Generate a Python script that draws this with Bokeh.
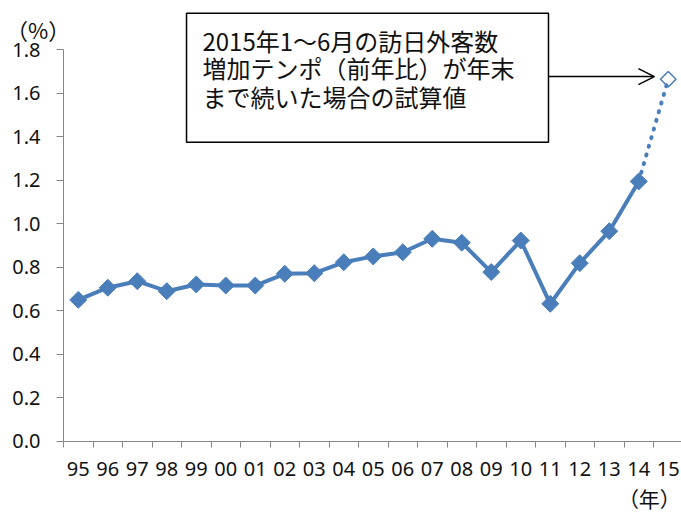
import numpy as np
from bokeh.plotting import figure
from bokeh.models import (Range1d, FixedTicker, Label, Arrow, OpenHead,
                          NumeralTickFormatter)
from bokeh.embed import file_html
from bokeh.resources import INLINE

# ---- data ----
years = ["95", "96", "97", "98", "99", "00", "01", "02", "03", "04", "05",
         "06", "07", "08", "09", "10", "11", "12", "13", "14", "15"]
actual = [0.650, 0.706, 0.736, 0.690, 0.721, 0.716, 0.716, 0.770, 0.773, 0.823,
          0.850, 0.869, 0.931, 0.913, 0.778, 0.923, 0.632, 0.819, 0.966, 1.195]
estimate_2015 = 1.665
y_ticks = [0.0, 0.2, 0.4, 0.6, 0.8, 1.0, 1.2, 1.4, 1.6, 1.8]
note_lines = ["2015年1～6月の訪日外客数",
              "増加テンポ（前年比）が年末",
              "まで続いた場合の試算値"]
y_unit = "（%）"
x_unit = "（年）"

BLUE = "#4A7EBB"
GRAY = "#868686"
NUM_FONT = "Noto Sans"
JP_FONT = "Noto Sans CJK JP"

W, H = 681, 513
p = figure(width=W, height=H, output_backend="svg", toolbar_location=None,
           x_range=Range1d(-2.636, 20.449), y_range=Range1d(-0.3326, 2.0271),
           min_border_left=0, min_border_right=0, min_border_top=0,
           min_border_bottom=0)
p.outline_line_color = None
p.grid.grid_line_color = None
p.background_fill_color = "white"

xs = list(range(len(actual)))

# ---- axes (placed at fixed data positions) ----
xa = p.xaxis[0]
xa.fixed_location = 0
xa.bounds = (-0.5, 20.5)
xa.ticker = FixedTicker(ticks=list(range(len(years))),
                        minor_ticks=[i - 0.5 for i in range(len(years) + 1)])
xa.major_label_overrides = {i: s for i, s in enumerate(years)}
xa.major_tick_line_color = None
xa.major_tick_out = 0
xa.major_tick_in = 0
xa.minor_tick_line_color = GRAY
xa.minor_tick_out = 6
xa.minor_tick_in = 0
xa.axis_line_color = GRAY
xa.major_label_text_font = NUM_FONT
xa.major_label_text_font_size = "20px"
xa.major_label_text_color = "#111111"
xa.major_label_standoff = 15

ya = p.yaxis[0]
ya.fixed_location = -0.5
ya.ticker = FixedTicker(ticks=y_ticks)
ya.formatter = NumeralTickFormatter(format="0.0")
ya.bounds = (0, 1.8)
ya.axis_line_color = GRAY
ya.major_tick_line_color = GRAY
ya.major_tick_out = 7
ya.major_tick_in = 0
ya.minor_tick_line_color = None
ya.major_label_text_font = NUM_FONT
ya.major_label_text_font_size = "20px"
ya.major_label_text_color = "#111111"
ya.major_label_standoff = 16

# ---- series ----
p.line([xs[-1], len(actual)], [actual[-1], estimate_2015], line_color=BLUE,
       line_width=4, line_dash="1 8", line_cap="round")
p.line(xs, actual, line_color=BLUE, line_width=4)
p.scatter(xs, actual, marker="square", angle=np.pi / 4, size=12,
          fill_color=BLUE, line_color=BLUE, line_width=1)
p.scatter([len(actual)], [estimate_2015], marker="square", angle=np.pi / 4,
          size=11, fill_color=None, line_color=BLUE, line_width=1.5)

# ---- annotation box ----
p.quad(left=[3.67], right=[15.94], bottom=[1.375], top=[1.969],
       fill_color="white", line_color="black", line_width=1.5)
for yy, t in zip([1.843, 1.717, 1.586], note_lines):
    p.add_layout(Label(x=4.21, y=yy, text=t, text_font=JP_FONT,
                       text_font_size="24px", text_color="#111111",
                       text_align="left", text_baseline="middle"))

p.add_layout(Arrow(end=OpenHead(size=16, line_width=1.5, line_color="black"),
                   x_start=15.94, y_start=1.677, x_end=19.53, y_end=1.677,
                   line_width=1.5, line_color="black"))

# ---- units ----
p.add_layout(Label(x=-1.364, y=1.896, text=y_unit,
                   text_font=JP_FONT, text_font_size="22px", text_color="#111111",
                   text_align="center", text_baseline="middle"))
p.add_layout(Label(x=19.36, y=-0.2627, text=x_unit,
                   text_font=JP_FONT, text_font_size="21px", text_color="#111111",
                   text_align="center", text_baseline="middle"))

open("out.html", "w").write(file_html(p, INLINE))
